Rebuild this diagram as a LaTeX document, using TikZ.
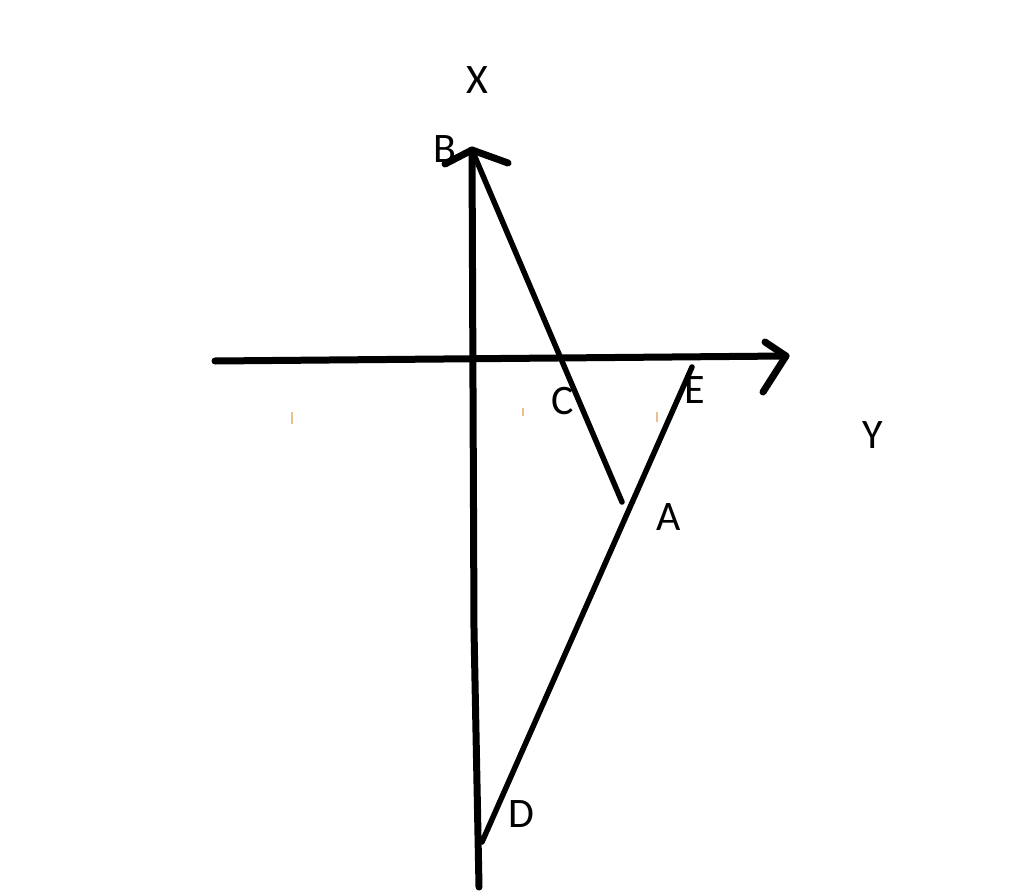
\documentclass[tikz,border=0pt]{standalone}
\usepackage{fontspec}
\setmainfont{Carlito}
\begin{document}
\begin{tikzpicture}[x=1pt,y=-1pt,
  axis/.style={line width=7pt,line cap=round,line join=round},
  seg/.style={line width=5.5pt,line cap=round,line join=round},
  lbl/.style={font=\fontsize{42}{42}\selectfont,inner sep=0pt},
  speck/.style={draw=brown!60!orange!50,line width=1.5pt}]
\useasboundingbox (0,0) rectangle (1024,893);
% points
\coordinate (Btip) at (472,150);
\coordinate (Bl) at (445,164);
\coordinate (Br) at (508,163);
\coordinate (Vmid) at (474,630);
\coordinate (Vbot) at (479,887);
\coordinate (Hl) at (215,361);
\coordinate (Htip) at (786,356);
\coordinate (Hu) at (765,342);
\coordinate (Hd) at (763,392);
\coordinate (Aend) at (622,502);
\coordinate (Etop) at (692,367);
\coordinate (Dend) at (482,842);
% axes
\draw[axis] (Btip) -- (Vmid) -- (Vbot);
\draw[axis] (Bl) -- (Btip) -- (Br);
\draw[axis] (Hl) -- (Htip);
\draw[axis] (Hu) -- (Htip) -- (Hd);
% segments
\draw[seg] (Btip) -- (Aend);
\draw[seg] (Etop) -- (Dend);
% specks
\coordinate (s1a) at (292,412); \coordinate (s1b) at (292,424);
\coordinate (s2a) at (523,408); \coordinate (s2b) at (523,416);
\coordinate (s3a) at (657,412); \coordinate (s3b) at (657,422);
\draw[speck] (s1a) -- (s1b);
\draw[speck] (s2a) -- (s2b);
\draw[speck] (s3a) -- (s3b);
% labels
\node[lbl] (X) at (477,80) {X};
\node[lbl] (B) at (445,149) {B};
\node[lbl] (C) at (563,401) {C};
\node[lbl] (E) at (695,390) {E};
\node[lbl] (Y) at (873,435) {Y};
\node[lbl] (A) at (669,517) {A};
\node[lbl] (D) at (521,814) {D};
\end{tikzpicture}
\end{document}
